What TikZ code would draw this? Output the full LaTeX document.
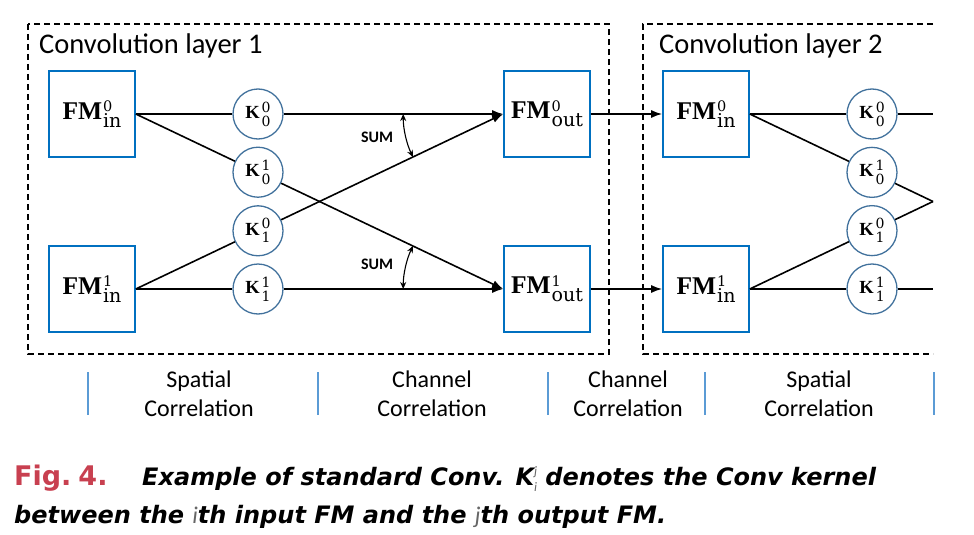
\documentclass[tikz,border=0pt]{standalone}
\usepackage{fontspec}
\setsansfont{Carlito}
\newfontfamily\capfont{DejaVu Sans}
\newfontfamily\labfont{Liberation Serif}
\newfontfamily\scrfont{DejaVu Serif}
\usetikzlibrary{arrows.meta,calc}
\definecolor{fmblue}{RGB}{0,112,192}
\definecolor{kblue}{RGB}{65,113,156}
\definecolor{sepblue}{RGB}{91,155,213}
\definecolor{figred}{RGB}{200,64,80}
\newcommand\lightvar[1]{{\normalfont\sffamily\itshape\color{black!60}#1}}
% bold base letters with stacked superscript and subscript
\newcommand\fmlab[2]{{\bfseries FM}\kern1pt\rlap{\raisebox{7.5pt}{\scrfont\fontsize{14.5}{15}\selectfont #1}}{\scrfont\fontsize{19}{20}\selectfont\raisebox{-8pt}{#2}}}
\newcommand\klab[2]{{\bfseries K}\kern2pt\rlap{\raisebox{6.5pt}{\scrfont\fontsize{14}{14}\selectfont #1}}{\scrfont\fontsize{14}{14}\selectfont\raisebox{-7.5pt}{#2}}}
\begin{document}
\begin{tikzpicture}[x=1pt,y=-1pt,
  fmbox/.style={draw=fmblue, line width=1.6pt, minimum width=86pt, minimum height=86pt, inner sep=0pt, font=\labfont\fontsize{25.5}{28}\selectfont},
  kern/.style={circle, draw=kblue, line width=1.3pt, minimum size=50pt, inner sep=0pt, font=\labfont\fontsize{18.5}{20}\selectfont},
  conn/.style={line width=1.6pt},
  arr/.style={conn, -{Latex[length=11pt,width=8pt]}},
  sumarc/.style={line width=1.1pt, {Stealth[length=7pt,width=6pt]}-{Stealth[length=7pt,width=6pt]}},
  layer/.style={line width=1.5pt, dash pattern=on 6pt off 4pt},
  layertitle/.style={anchor=base west, inner sep=0pt, font=\sffamily\fontsize{28.5}{33}\selectfont},
  sumlabel/.style={inner sep=0pt, font=\sffamily\bfseries\fontsize{16}{18}\selectfont},
  corr/.style={align=center, inner sep=0pt, font=\sffamily\fontsize{24}{29}\selectfont},
  sep/.style={draw=sepblue, line width=1.3pt},
  capstyle/.style={anchor=base west, inner sep=0pt, font=\capfont\bfseries\itshape\fontsize{24}{28}\selectfont}]
\useasboundingbox (0,0) rectangle (974,535);

% layer frames
\draw[layer] (28,24) rectangle (609,354);
\draw[layer] (933,24) -- (643,24) -- (643,354) -- (933,354);
\node[layertitle] (t1) at (39,53) {Convolution layer 1};
\node[layertitle] (t2) at (659,53) {Convolution layer 2};

% feature maps
\node[fmbox] (in0) at (92,114) {\fmlab{0}{in}};
\node[fmbox] (in1) at (92,289) {\fmlab{1}{in}};
\node[fmbox] (out0) at (547,114) {\fmlab{0}{out}};
\node[fmbox] (out1) at (547,289) {\fmlab{1}{out}};
\node[fmbox] (l2in0) at (706,114) {\fmlab{0}{in}};
\node[fmbox] (l2in1) at (706,289) {\fmlab{1}{in}};

% kernels layer 1
\node[kern] (k00) at (258,114) {\klab{0}{0}};
\node[kern] (k01) at ($(in0.east)!0.3326!(out1.west)$) {\klab{1}{0}};
\node[kern] (k10) at ($(in1.east)!0.3326!(out0.west)$) {\klab{0}{1}};
\node[kern] (k11) at (258,289) {\klab{1}{1}};

% layer 2 ends
\coordinate (e0) at (933,114);
\coordinate (e1) at (933,289);
\coordinate (xc) at (933,201.5);
\node[kern] (m00) at (872,114) {\klab{0}{0}};
\node[kern] (m01) at ($(l2in0.east)!0.667!(xc)$) {\klab{1}{0}};
\node[kern] (m10) at ($(l2in1.east)!0.667!(xc)$) {\klab{0}{1}};
\node[kern] (m11) at (872,289) {\klab{1}{1}};

% connectors layer 1
\draw[conn] (in0.east) -- (k00);
\draw[arr] (k00) -- (out0.west);
\draw[conn] (in0.east) -- (k01);
\draw[arr] (k01) -- (out1.west);
\draw[conn] (in1.east) -- (k10);
\draw[arr] (k10) -- (out0.west);
\draw[conn] (in1.east) -- (k11);
\draw[arr] (k11) -- (out1.west);

% between layers
\draw[arr] (out0.east) -- (l2in0.west);
\draw[arr] (out1.east) -- (l2in1.west);

% connectors layer 2
\draw[conn] (l2in0.east) -- (m00);
\draw[conn] (m00) -- (e0);
\draw[conn] (l2in0.east) -- (m01);
\draw[conn] (m01) -- (xc);
\draw[conn] (l2in1.east) -- (m10);
\draw[conn] (m10) -- (xc);
\draw[conn] (l2in1.east) -- (m11);
\draw[conn] (m11) -- (e1);

% SUM arcs
\draw[sumarc] ([shift={(180:100pt)}]out0.west) arc[start angle=180, end angle=205.5, radius=100pt];
\draw[sumarc] ([shift={(180:100pt)}]out1.west) arc[start angle=180, end angle=154.5, radius=100pt];
\node[sumlabel] (s1) at (377,137) {SUM};
\node[sumlabel] (s2) at (377,264) {SUM};

% bottom separators and labels
\draw[sep] (88,372) -- (88,415);
\draw[sep] (318,372) -- (318,415);
\draw[sep] (548,372) -- (548,415);
\draw[sep] (705,372) -- (705,415);
\draw[sep] (934,372) -- (934,415);
\node[corr] (c1) at (199,394) {Spatial\\Correlation};
\node[corr] (c2) at (432,394) {Channel\\Correlation};
\node[corr] (c3) at (628,394) {Channel\\Correlation};
\node[corr] (c4) at (819,394) {Spatial\\Correlation};

% caption
\node[anchor=base west, inner sep=0pt, font=\capfont\bfseries\fontsize{27}{30}\selectfont, text=figred] (fig) at (14,485) {Fig.\hspace{7pt}4.};
\node[capstyle] (cap1) at (142,485) {Example of standard Conv. K\rlap{\raisebox{10pt}{\fontsize{13}{13}\selectfont\lightvar{j}}}\raisebox{-6pt}{\fontsize{13}{13}\selectfont\lightvar{i}} denotes the Conv kernel};
\node[capstyle] (cap2) at (14,523) {between the \lightvar{i}th input FM and the \lightvar{j}th output FM.};
\end{tikzpicture}
\end{document}
